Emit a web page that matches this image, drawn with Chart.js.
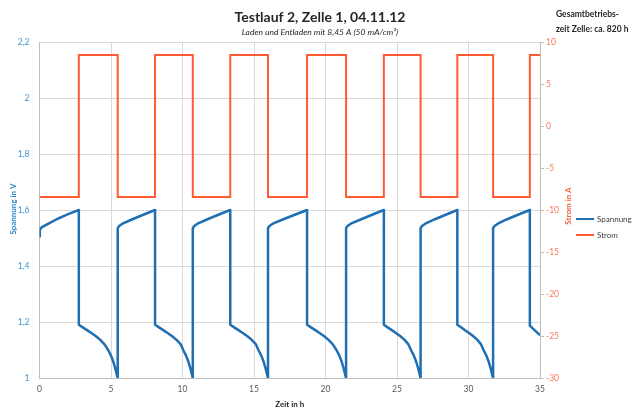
<!DOCTYPE html>
<html>
<head>
<meta charset="utf-8">
<script src="https://cdn.jsdelivr.net/npm/chart.js@4.4.1/dist/chart.umd.min.js"></script>
<style>
    html, body { margin: 0; padding: 0; background: #fff; }
    #wrap { width: 632px; height: 412px; }
</style>
</head>
<body>
<div id="wrap"><canvas id="cellChart" width="632" height="412"></canvas></div>
<script>
// Spannung (V) over Zeit (h)
const voltageTime = [
    0, 0.02, 0.15, 0.5, 1.2, 2.0, 2.75,
    2.75, 3.05, 3.35, 3.65, 3.95, 4.25, 4.55, 4.80, 5.00, 5.15, 5.27, 5.37, 5.47,
    5.47, 5.57, 5.8, 6.5, 7.3, 8.08,
    8.08, 8.38, 8.68, 8.98, 9.28, 9.58, 9.88, 10.05, 10.25, 10.40, 10.52, 10.62, 10.72,
    10.72, 10.82, 11.05, 11.75, 12.55, 13.34,
    13.34, 13.64, 13.94, 14.24, 14.54, 14.84, 15.14, 15.31, 15.51, 15.66, 15.78, 15.88, 15.98,
    15.98, 16.08, 16.31, 17.05, 17.9, 18.71,
    18.71, 19.01, 19.31, 19.61, 19.91, 20.21, 20.51, 20.77, 20.97, 21.12, 21.24, 21.34, 21.44,
    21.44, 21.54, 21.77, 22.5, 23.3, 24.08,
    24.08, 24.37, 24.66, 24.95, 25.24, 25.53, 25.80, 25.98, 26.18, 26.33, 26.45, 26.55, 26.65,
    26.65, 26.75, 26.98, 27.65, 28.45, 29.22,
    29.22, 29.50, 29.78, 30.06, 30.34, 30.62, 30.88, 31.05, 31.25, 31.40, 31.52, 31.62, 31.72,
    31.72, 31.82, 32.05, 32.7, 33.5, 34.29,
    34.29, 34.6, 35.0
];
const voltageValue = [
    1.505, 1.53, 1.538, 1.548, 1.567, 1.585, 1.60,
    1.19, 1.18, 1.17, 1.16, 1.149, 1.136, 1.12, 1.10, 1.08, 1.06, 1.04, 1.02, 1.0,
    1.535, 1.543, 1.551, 1.567, 1.584, 1.60,
    1.19, 1.18, 1.17, 1.16, 1.149, 1.136, 1.12, 1.10, 1.08, 1.06, 1.04, 1.02, 1.0,
    1.535, 1.543, 1.551, 1.567, 1.584, 1.60,
    1.19, 1.18, 1.17, 1.16, 1.149, 1.136, 1.12, 1.10, 1.08, 1.06, 1.04, 1.02, 1.0,
    1.535, 1.543, 1.551, 1.567, 1.584, 1.60,
    1.19, 1.18, 1.17, 1.16, 1.149, 1.136, 1.12, 1.10, 1.08, 1.06, 1.04, 1.02, 1.0,
    1.535, 1.543, 1.551, 1.567, 1.584, 1.60,
    1.19, 1.18, 1.17, 1.16, 1.149, 1.136, 1.12, 1.10, 1.08, 1.06, 1.04, 1.02, 1.0,
    1.535, 1.543, 1.551, 1.567, 1.584, 1.60,
    1.19, 1.18, 1.17, 1.16, 1.149, 1.136, 1.12, 1.10, 1.08, 1.06, 1.04, 1.02, 1.0,
    1.535, 1.543, 1.551, 1.567, 1.584, 1.60,
    1.187, 1.172, 1.153
];

// Strom (A): switching times and the two levels
const currentSwitchTimes = [2.75, 5.47, 8.08, 10.72, 13.34, 15.98, 18.71, 21.44, 24.08, 26.65, 29.22, 31.72, 34.29];
const currentLevels = [-8.45, 8.45];
const timeEnd = 35;

const voltageTicks = [1, 1.2, 1.4, 1.6, 1.8, 2, 2.2];
const currentTicks = [-30, -25, -20, -15, -10, -5, 0, 5, 10];
const timeTicks = [0, 5, 10, 15, 20, 25, 30, 35];

const voltagePoints = voltageTime.map((t, i) => ({ x: t, y: voltageValue[i] }));

const currentPoints = [{ x: 0, y: currentLevels[0] }];
currentSwitchTimes.forEach((t, i) => {
    currentPoints.push({ x: t, y: currentLevels[i % 2] });
    currentPoints.push({ x: t, y: currentLevels[(i + 1) % 2] });
});
currentPoints.push({ x: timeEnd, y: currentLevels[currentSwitchTimes.length % 2] });

const FONT = 'Lato, "Open Sans", sans-serif';
const BLUE = '#1F6FB2';
const RED = '#FF5A32';

// Titles, axis titles and legend, drawn Excel-style
const labelsPlugin = {
    id: 'labels',
    afterDraw(chart) {
        const ctx = chart.ctx;
        const area = chart.chartArea;
        ctx.save();
        ctx.textBaseline = 'middle';

        ctx.fillStyle = '#262626';
        ctx.textAlign = 'center';
        ctx.font = 'bold 14px ' + FONT;
        ctx.fillText('Testlauf 2, Zelle 1, 04.11.12', 320, 17);
        ctx.font = 'italic 8.5px ' + FONT;
        ctx.fillText('Laden und Entladen mit 8,45 A (50 mA/cm²)', 320, 32);

        ctx.textAlign = 'left';
        ctx.font = 'bold 8.5px ' + FONT;
        ctx.fillText('Gesamtbetriebs-', 556, 14);
        ctx.fillText('zeit Zelle: ca. 820 h', 556, 29);

        ctx.textAlign = 'center';
        ctx.font = 'bold 8px ' + FONT;
        ctx.fillText('Zeit in h', (area.left + area.right) / 2, 404);

        ctx.save();
        ctx.translate(13, 209);
        ctx.rotate(-Math.PI / 2);
        ctx.fillStyle = '#2E86C8';
        ctx.fillText('Spannung in V', 0, 0);
        ctx.restore();

        ctx.save();
        ctx.translate(568, 206);
        ctx.rotate(-Math.PI / 2);
        ctx.fillStyle = '#F0643C';
        ctx.fillText('Strom in A', 0, 0);
        ctx.restore();

        // legend
        const items = [['Spannung', BLUE, 219], ['Strom', RED, 235]];
        ctx.textAlign = 'left';
        ctx.font = '8px ' + FONT;
        items.forEach(([name, color, y]) => {
            ctx.strokeStyle = color;
            ctx.lineWidth = 2;
            ctx.beginPath();
            ctx.moveTo(576, y);
            ctx.lineTo(594, y);
            ctx.stroke();
            ctx.fillStyle = '#404040';
            ctx.fillText(name, 597, y);
        });
        ctx.restore();
    }
};

const fmtComma = v => String(Number(v.toFixed(1))).replace('.', ',');

new Chart(document.getElementById('cellChart'), {
    type: 'line',
    data: {
        datasets: [{
            label: 'Spannung',
            data: voltagePoints,
            yAxisID: 'y',
            borderColor: BLUE,
            borderWidth: 2.5,
            borderJoinStyle: 'round',
            pointRadius: 0,
            tension: 0,
            order: 1
        }, {
            label: 'Strom',
            data: currentPoints,
            yAxisID: 'y1',
            borderColor: RED,
            borderWidth: 2,
            pointRadius: 0,
            tension: 0,
            order: 2
        }]
    },
    options: {
        responsive: false,
        animation: false,
        layout: { padding: { top: 42, left: 0, right: 0, bottom: 0 } },
        plugins: {
            legend: { display: false },
            tooltip: { enabled: false }
        },
        scales: {
            x: {
                type: 'linear',
                min: 0,
                max: timeEnd,
                afterBuildTicks: s => { s.ticks = timeTicks.map(v => ({ value: v })); },
                ticks: { color: '#595959', font: { family: FONT, size: 8.5 }, padding: 6, maxRotation: 0 },
                grid: { color: '#D9D9D9', drawTicks: false },
                border: { color: '#BFBFBF' },
                afterFit: s => { s.height = 34; }
            },
            y: {
                position: 'left',
                min: 1,
                max: 2.2,
                afterBuildTicks: s => { s.ticks = voltageTicks.map(v => ({ value: v })); },
                ticks: { color: '#3C96D2', font: { family: FONT, size: 8.5 }, padding: 10, callback: fmtComma },
                grid: { color: '#D9D9D9', drawTicks: false },
                border: { color: '#BFBFBF' },
                afterFit: s => { s.width = 39.5; }
            },
            y1: {
                position: 'right',
                min: -30,
                max: 10,
                afterBuildTicks: s => { s.ticks = currentTicks.map(v => ({ value: v })); },
                ticks: { color: '#F47C5C', font: { family: FONT, size: 8.5 }, padding: 2 },
                grid: { drawOnChartArea: false, drawTicks: true, tickLength: 4, color: '#BFBFBF' },
                border: { color: '#BFBFBF' },
                afterFit: s => { s.width = 92; }
            }
        }
    },
    plugins: [labelsPlugin]
});
</script>
</body>
</html>
